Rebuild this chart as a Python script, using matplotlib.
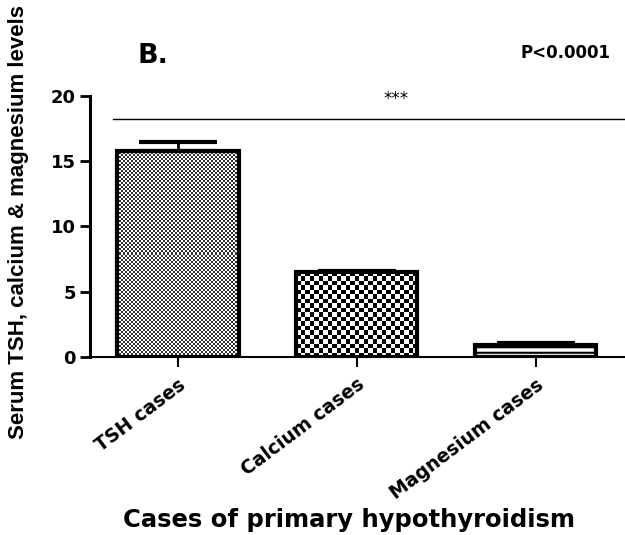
import numpy as np
import matplotlib
matplotlib.use("Agg")
import matplotlib.pyplot as plt

categories = ["TSH cases", "Calcium cases", "Magnesium cases"]
means = [15.8, 6.5, 0.92]
errors = [0.7, 0.12, 0.15]
yticks = [0, 5, 10, 15, 20]

plt.rcParams['font.family'] = ['DejaVu Sans']
plt.rcParams['font.weight'] = 'bold'
plt.rcParams['hatch.linewidth'] = 1.5

fig = plt.figure(figsize=(6.25, 5.35), dpi=100)
ax = fig.add_axes([0.144, 0.3327, 0.856, 0.488])

x = np.arange(len(categories))
bars = ax.bar(x, means, width=0.68, facecolor='none', edgecolor='black',
              linewidth=3, zorder=3)
ax.errorbar(x, means, yerr=[[0]*3, errors], fmt='none', ecolor='black',
            elinewidth=2, capsize=28, capthick=3, zorder=2)

ax.set_xlim(-0.49, 2.5)
ax.set_ylim(0, 20)
ppx = 178.5
ppy = 13.05

# checkerboard textures for first two bars, stripes for third
def checker(patch, cell_px, gray_lo):
    x0, w, h = patch.get_x(), patch.get_width(), patch.get_height()
    nx = max(int(round(w * ppx / cell_px)), 1)
    ny = max(int(round(h * ppy / cell_px)), 1)
    img = (np.indices((ny, nx)).sum(axis=0) % 2).astype(float)
    img = gray_lo + (1 - gray_lo) * img
    im = ax.imshow(img, cmap='gray', vmin=0, vmax=1, extent=(x0, x0 + w, 0, h),
                   interpolation='nearest', aspect='auto', zorder=2.5)
    im.set_clip_path(patch)

checker(bars[0], 2.0, 0.2)
checker(bars[1], 4.5, 0.0)
bars[2].set_hatch('---')

ax.set_yticks(yticks)
ax.set_yticklabels([str(v) for v in yticks], fontsize=13, fontweight='bold')
ax.set_xticks(x)
ax.set_xticklabels(categories, rotation=37, ha='right', rotation_mode='anchor',
                   fontsize=13.5, fontweight='bold')
ax.tick_params(axis='y', length=7, width=2, pad=3)
ax.tick_params(axis='x', length=7, width=1.5, pad=6)
ax.spines['top'].set_visible(False)
ax.spines['right'].set_visible(False)
ax.spines['left'].set_linewidth(2.2)
ax.spines['bottom'].set_linewidth(1.5)

ax.set_xlabel("Cases of primary hypothyroidism", fontsize=17.5, fontweight='bold',
              va='center', ha='center')
ax.xaxis.set_label_coords(0.484, -0.625)
fig.text(0.03, 0.585, "Serum TSH, calcium & magnesium levels", rotation=90,
         fontsize=16, fontweight='bold', ha='center', va='center',
         family=['Liberation Sans', 'DejaVu Sans'])

ax.plot([-0.36, 2.5], [18.2, 18.2], color='black', linewidth=1, clip_on=False)
ax.text(1.22, 19.8, "***", ha='center', va='center', fontsize=12, fontweight='normal')
fig.text(0.245, 0.895, "B.", fontsize=19.5, fontweight='bold', ha='center', va='center')
fig.text(0.904, 0.9, "P<0.0001", fontsize=12, fontweight='bold', ha='center', va='center')

fig.savefig("out.png", dpi=100)
